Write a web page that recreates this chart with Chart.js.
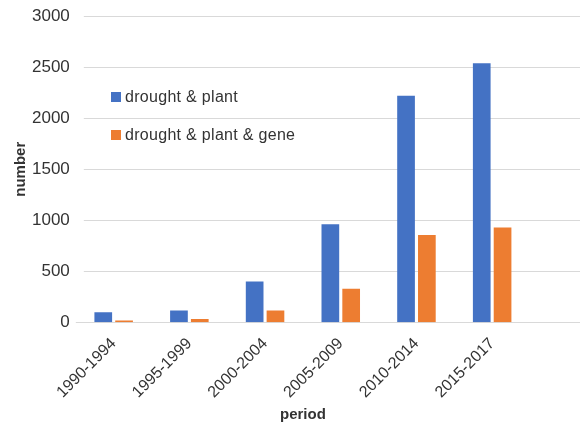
<!DOCTYPE html>
<html>
<head>
<meta charset="utf-8">
<script src="https://cdn.jsdelivr.net/npm/chart.js@4.4.0/dist/chart.umd.min.js"></script>
<style>
    body { margin: 0; background: #fff; }
    #wrap { position: relative; width: 580px; height: 431px; }
    #legend { position: absolute; left: 111px; top: 87px; font-family: "Liberation Sans", Arial, sans-serif; font-size: 16px; letter-spacing: 0.3px; color: #333; }
    #legend div { height: 20px; line-height: 20px; margin-bottom: 18px; white-space: nowrap; }
    #legend span { display: inline-block; width: 10px; height: 10px; margin-right: 4px; vertical-align: 0px; }
</style>
</head>
<body>
<div id="wrap">
    <canvas id="myChart" width="580" height="431"></canvas>
    <div id="legend"></div>
</div>
<script>
var periods = ["1990-1994", "1995-1999", "2000-2004", "2005-2009", "2010-2014", "2015-2017"];
var plantCounts = [98, 115, 400, 960, 2220, 2540];
var geneCounts = [18, 32, 115, 330, 855, 930];
var seriesNames = ["drought & plant", "drought & plant & gene"];
var seriesColors = ["#4472C4", "#ED7D31"];

var textColor = "#333";
var font = "'Liberation Sans', Arial, sans-serif";

// gridlines run past the plot area to the right edge, like the reference crop
var wideGrid = {
    id: "wideGrid",
    beforeDatasetsDraw: function(chart) {
        var ctx = chart.ctx;
        var y = chart.scales.y;
        ctx.save();
        ctx.strokeStyle = "#d9d9d9";
        ctx.lineWidth = 1;
        y.ticks.forEach(function(t) {
            var py = Math.round(y.getPixelForValue(t.value)) + 0.5;
            ctx.beginPath();
            ctx.moveTo(chart.chartArea.left + (t.value === 0 ? 0 : 8), py);
            ctx.lineTo(chart.width, py);
            ctx.stroke();
        });
        ctx.restore();
    }
};

var datasets = [
    { label: seriesNames[0], data: plantCounts, backgroundColor: seriesColors[0] },
    { label: seriesNames[1], data: geneCounts, backgroundColor: seriesColors[1] }
];

var myChart = new Chart(document.getElementById("myChart"), {
    type: "bar",
    data: { labels: periods, datasets: datasets },
    plugins: [wideGrid],
    options: {
        responsive: false,
        animation: false,
        layout: { padding: { top: 5, right: 50, bottom: 7, left: 12 } },
        datasets: { bar: { categoryPercentage: 0.55, barPercentage: 0.85 } },
        plugins: {
            legend: { display: false },
            tooltip: { enabled: false }
        },
        scales: {
            x: {
                grid: { display: false },
                border: { display: false },
                ticks: { color: textColor, font: { family: font, size: 16 }, maxRotation: 45, minRotation: 45, padding: 4 },
                title: { display: true, text: "period", color: textColor, font: { family: font, size: 15, weight: "bold" }, padding: { top: 0, bottom: 0 } }
            },
            y: {
                min: 0, max: 3000,
                grid: { display: false, drawTicks: false },
                border: { display: false },
                ticks: {
                    stepSize: 500, color: textColor, font: { family: font, size: 17 }, padding: 6,
                    callback: function(v) { return String(v); }
                },
                title: { display: true, text: "number", color: textColor, font: { family: font, size: 15, weight: "bold" }, padding: { top: 0, bottom: -4 } }
            }
        }
    }
});

var legend = document.getElementById("legend");
datasets.forEach(function(ds) {
    var row = document.createElement("div");
    var box = document.createElement("span");
    box.style.background = ds.backgroundColor;
    row.appendChild(box);
    row.appendChild(document.createTextNode(ds.label));
    legend.appendChild(row);
});
</script>
</body>
</html>
